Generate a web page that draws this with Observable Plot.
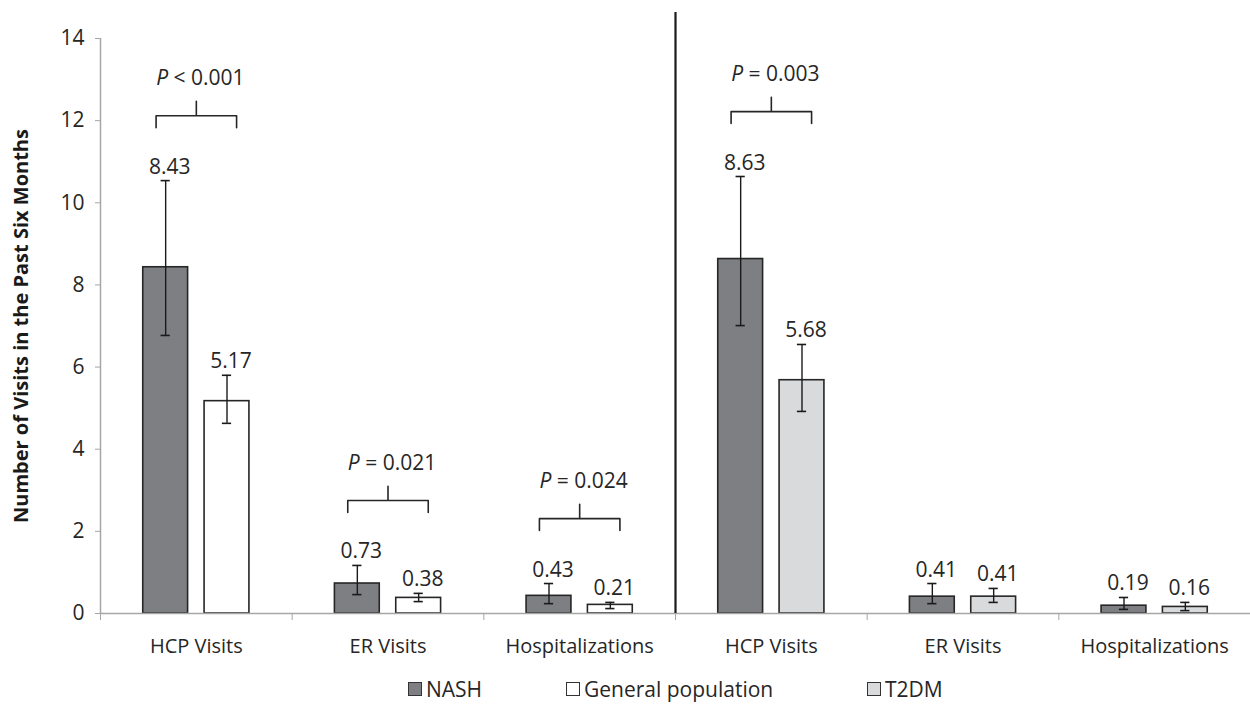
<!DOCTYPE html>
<html>
<head>
<meta charset="utf-8">
<script src="https://cdn.jsdelivr.net/npm/d3@7"></script>
<script src="https://cdn.jsdelivr.net/npm/@observablehq/plot@0.6"></script>
<style>
  html, body { margin: 0; padding: 0; background: #fff; }
  body { width: 1250px; height: 714px; overflow: hidden; font-family: "Open Sans", sans-serif; color: #262626; }
  #legend { position: relative; height: 40px; font-size: 21px; margin-top: 10px; }
  #legend .item { position: absolute; top: 0; display: flex; align-items: center; gap: 4px; white-space: nowrap; }
  #legend .sw { width: 14px; height: 14px; border: 1.5px solid #333; box-sizing: border-box; }
</style>
</head>
<body>
<div id="chart"></div>
<div id="legend"></div>
<script>
// ---- data ----
const categories = ["HCP Visits", "ER Visits", "Hospitalizations", "HCP Visits", "ER Visits", "Hospitalizations"];
const nashValues = [8.43, 0.73, 0.43, 8.63, 0.41, 0.19];
const nashLow    = [6.77, 0.46, 0.24, 7.01, 0.24, 0.10];
const nashHigh   = [10.54, 1.17, 0.73, 10.64, 0.73, 0.39];
const compSeries = ["General population", "General population", "General population", "T2DM", "T2DM", "T2DM"];
const compValues = [5.17, 0.38, 0.21, 5.68, 0.41, 0.16];
const compLow    = [4.63, 0.29, 0.12, 4.92, 0.27, 0.07];
const compHigh   = [5.80, 0.49, 0.27, 6.55, 0.61, 0.27];
const pGroups = [0, 1, 2, 3];
const pLabels = ["P < 0.001", "P = 0.021", "P = 0.024", "P = 0.003"];
const yTicks = [0, 2, 4, 6, 8, 10, 12, 14];
const seriesNames = ["NASH", "General population", "T2DM"];
const seriesColors = ["#7e7f83", "#ffffff", "#d9dadc"];
const legendLeft = [408, 566, 867];
const yTitle = "Number of Visits in the Past Six Months";

// ---- derived table ----
const OFF = 0.16, HALF = 0.117, CAP = 0.024;
const rows = [];
categories.forEach((c, i) => {
  rows.push({i, series: "NASH", value: nashValues[i], low: nashLow[i], high: nashHigh[i], xc: i + 0.5 - OFF});
  rows.push({i, series: compSeries[i], value: compValues[i], low: compLow[i], high: compHigh[i], xc: i + 0.5 + OFF});
});
const brackets = pGroups.map((g, k) => {
  const top = d3.max(rows.filter(r => r.i === g), r => r.high);
  const base = top + 1.29, level = base + 0.29;
  return {g, label: pLabels[k], base, level, spike: level + 0.35, textY: level + 0.92};
});
const bracketPaths = brackets.flatMap((b, k) => {
  const c = b.g + 0.5, w = 0.21;
  return [[c - w, b.base], [c - w, b.level], [c, b.level], [c, b.spike], [c, b.level], [c + w, b.level], [c + w, b.base]]
    .map(([x, y]) => ({k, x, y}));
});
const boundaries = d3.range(0, categories.length + 1);
const colorOf = s => seriesColors[seriesNames.indexOf(s)];

const plot = Plot.plot({
  width: 1250,
  height: 665,
  marginLeft: 100,
  marginRight: 0,
  marginTop: 12,
  marginBottom: 52,
  style: {fontFamily: "Open Sans, sans-serif", fontSize: "21px", color: "#262626", overflow: "visible"},
  x: {domain: [0, categories.length], axis: null},
  y: {domain: [0, 14], range: [613, 38], axis: null},
  marks: [
    // axes
    Plot.axisY({ticks: yTicks, tickSize: 5, tickPadding: 11, stroke: "#a6a6a6", fill: "#262626", fontSize: 21}),
    Plot.ruleX([0], {y1: 0, y2: 14, stroke: "#a6a6a6", strokeWidth: 1.5}),
    Plot.axisX({ticks: boundaries, tickFormat: () => "", tickSize: 7, stroke: "#a6a6a6"}),
    // bars
    Plot.rect(rows, {x1: d => d.xc - HALF, x2: d => d.xc + HALF, y1: 0, y2: "value",
      fill: d => colorOf(d.series), stroke: "#262626", strokeWidth: 1.6}),
    Plot.ruleY([0], {stroke: "#a6a6a6", strokeWidth: 1.5}),
    // divider
    Plot.ruleX([3], {stroke: "#1a1a1a", strokeWidth: 2.2}),
    // error bars
    Plot.ruleX(rows, {x: "xc", y1: "low", y2: "high", stroke: "#1a1a1a", strokeWidth: 1.4}),
    Plot.ruleY(rows, {y: "high", x1: d => d.xc - CAP, x2: d => d.xc + CAP, stroke: "#1a1a1a", strokeWidth: 1.6}),
    Plot.ruleY(rows, {y: "low", x1: d => d.xc - CAP, x2: d => d.xc + CAP, stroke: "#1a1a1a", strokeWidth: 1.6}),
    // value labels
    Plot.text(rows, {x: "xc", y: "high", text: d => d.value.toFixed(2), dy: -7, dx: 4, lineAnchor: "bottom", fill: "#262626", fontSize: 21}),
    // brackets
    Plot.line(bracketPaths, {x: "x", y: "y", z: "k", stroke: "#262626", strokeWidth: 1.6, strokeLinejoin: "round"}),
    Plot.text(brackets, {x: d => d.g + 0.5, y: "textY", text: "label", dx: 4, fill: "#262626", fontSize: 21}),
    // category labels
    Plot.text(categories, {x: (d, i) => i + 0.5, y: () => 0, text: d => d, dy: 33, fill: "#262626", fontSize: 20}),
    // y title
    Plot.text([yTitle], {frameAnchor: "left", y: () => 7, text: d => d, dx: -79, rotate: -90, textAnchor: "middle",
      fontWeight: "bold", fontSize: 20, fill: "#1a1a1a"})
  ]
});

// italic P in p-value labels
d3.select(plot).selectAll("text").each(function () {
  const t = this.textContent;
  if (/^P [<=]/.test(t)) {
    const sel = d3.select(this);
    sel.text("");
    sel.append("tspan").attr("font-style", "italic").text("P");
    sel.append("tspan").text(t.slice(1));
  }
});

document.getElementById("chart").appendChild(plot);

// legend
const legend = d3.select("#legend");
seriesNames.forEach((s, k) => {
  const item = legend.append("div").attr("class", "item").style("left", legendLeft[k] + "px");
  item.append("div").attr("class", "sw").style("background", seriesColors[k]);
  item.append("span").text(s);
});
</script>
</body>
</html>
